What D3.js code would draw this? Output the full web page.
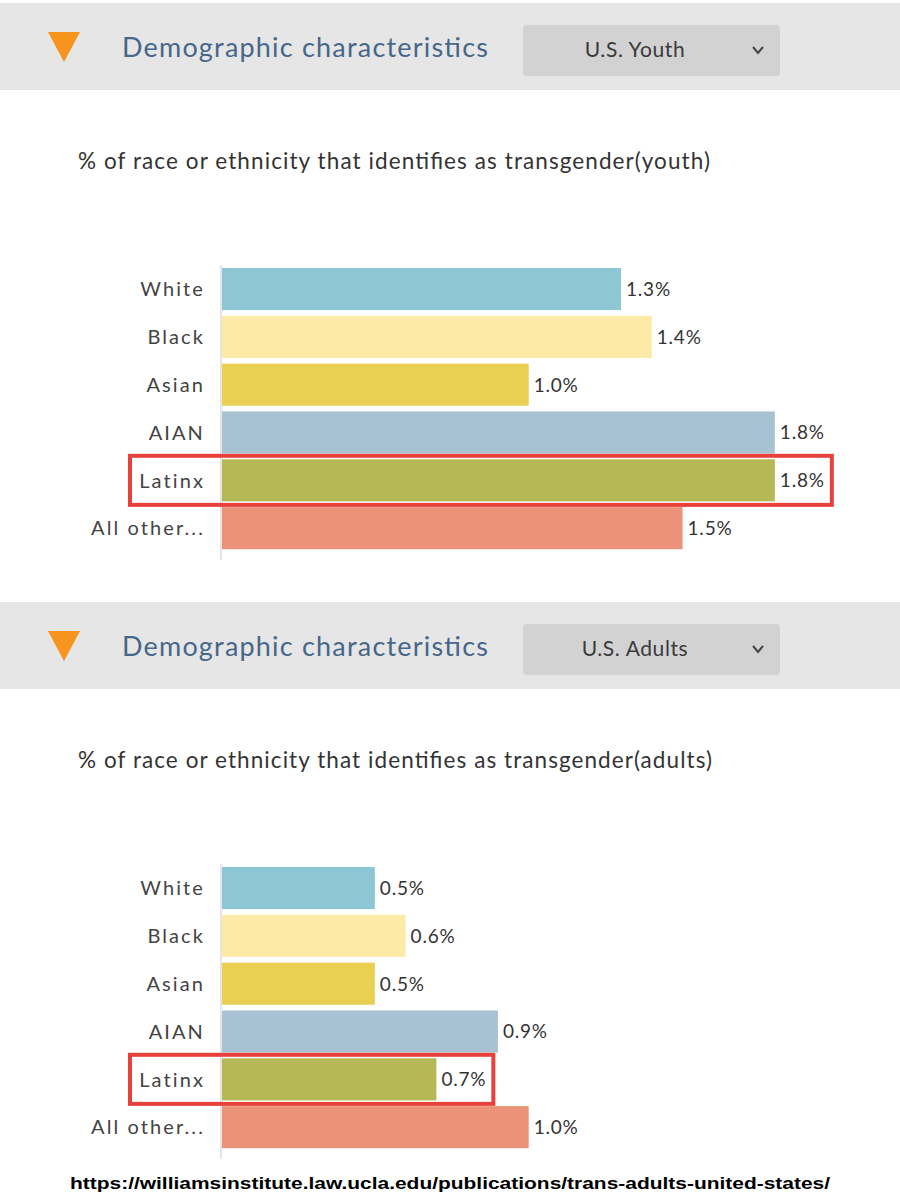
<!DOCTYPE html>
<html>
<head>
<meta charset="utf-8">
<script src="https://cdn.jsdelivr.net/npm/d3@7"></script>
<style>
  html, body { margin: 0; padding: 0; background: #fff; }
  svg { display: block; }
</style>
</head>
<body>
<svg id="chart" width="900" height="1200"></svg>
<script>
const categories = ["White", "Black", "Asian", "AIAN", "Latinx", "All other..."];
const youthValues = [1.3, 1.4, 1.0, 1.8, 1.8, 1.5];
const adultValues = [0.5, 0.6, 0.5, 0.9, 0.7, 1.0];
const barColors = ["#8dc7d5", "#fdeaa7", "#e9cf52", "#a6c2d3", "#b5b855", "#ec9278"];
const highlightCategory = "Latinx";
const panelTitles = ["% of race or ethnicity that identifies as transgender(youth)",
                     "% of race or ethnicity that identifies as transgender(adults)"];
const dropdownLabels = ["U.S. Youth", "U.S. Adults"];
const headerText = "Demographic characteristics";
const sourceText = "https://williamsinstitute.law.ucla.edu/publications/trans-adults-united-states/";

const svg = d3.select("#chart");
const x = d3.scaleLinear().domain([0, 1]).range([221, 528.7]);

function panel(offsetY, values, title, dropdown, titleLen) {
  const g = svg.append("g").attr("transform", `translate(0,${offsetY})`);
  // header band
  g.append("rect").attr("x", 0).attr("y", 3).attr("width", 900).attr("height", 87).attr("fill", "#e6e6e6");
  g.append("path").attr("d", "M48,32 L80,32 L64,62 Z").attr("fill", "#f7941d");
  g.append("text").attr("x", 122).attr("y", 57).text(headerText)
    .attr("font-family", "Lato, sans-serif").attr("font-size", 27).attr("fill", "#46678a")
    .attr("textLength", 366).attr("lengthAdjust", "spacing");
  g.append("rect").attr("x", 523).attr("y", 25).attr("width", 257).attr("height", 51).attr("rx", 4)
    .attr("fill", "#d2d2d2");
  g.append("text").attr("x", 635).attr("y", 57).attr("text-anchor", "middle").text(dropdown)
    .attr("font-family", "Lato, sans-serif").attr("font-size", 21).attr("letter-spacing", 0.6)
    .attr("fill", "#3a3a3a");
  g.append("path").attr("d", "M753,47 L758,53 L763,47").attr("fill", "none")
    .attr("stroke", "#444").attr("stroke-width", 2);
  // title
  g.append("text").attr("x", 78).attr("y", 169).text(title)
    .attr("font-family", "Lato, sans-serif").attr("font-size", 22.5).attr("fill", "#333")
    .attr("textLength", titleLen).attr("lengthAdjust", "spacing");

  const y = d3.scaleBand().domain(categories).range([265.1, 265.1 + 6 * 47.83])
    .paddingInner(0.12).paddingOuter(0.06);

  g.append("line").attr("x1", x(0)).attr("x2", x(0)).attr("y1", 265).attr("y2", 560)
    .attr("stroke", "#dcdcdc").attr("stroke-width", 1.5);

  const data = categories.map((c, i) => ({ c, v: values[i], color: barColors[i] }));

  g.selectAll("rect.bar").data(data).join("rect").attr("class", "bar")
    .attr("x", x(0) + 1).attr("y", d => y(d.c))
    .attr("width", d => x(d.v) - x(0) - 1).attr("height", y.bandwidth())
    .attr("fill", d => d.color);

  g.selectAll("text.cat").data(data).join("text").attr("class", "cat")
    .attr("x", 205).attr("y", d => y(d.c) + y.bandwidth() / 2)
    .attr("dy", "0.36em").attr("text-anchor", "end")
    .attr("font-family", "Lato, sans-serif").attr("font-size", 20)
    .attr("letter-spacing", 2.1).attr("fill", "#444").text(d => d.c);

  const vals = g.selectAll("text.val").data(data).join("text").attr("class", "val")
    .attr("x", d => x(d.v) + 5).attr("y", d => y(d.c) + y.bandwidth() / 2)
    .attr("dy", "0.36em")
    .attr("font-family", "Lato, sans-serif").attr("font-size", 19)
    .attr("letter-spacing", 0.8).attr("fill", "#333")
    .text(d => d.v.toFixed(1) + "%");

  // highlight box
  const hi = data.find(d => d.c === highlightCategory);
  const hiNode = vals.filter(d => d.c === highlightCategory).node();
  const right = x(hi.v) + 5 + hiNode.getComputedTextLength() + 7;
  g.append("rect").attr("x", 130).attr("y", y(hi.c) - 3.5)
    .attr("width", right - 130).attr("height", y.bandwidth() + 7)
    .attr("fill", "none").attr("stroke", "#e8403a").attr("stroke-width", 4);
}

panel(0, youthValues, panelTitles[0], dropdownLabels[0], 632);
panel(599, adultValues, panelTitles[1], dropdownLabels[1], 634);

svg.append("text").attr("x", 70).attr("y", 1189).text(sourceText)
  .attr("font-family", "Liberation Sans, Arial, sans-serif").attr("font-weight", "bold")
  .attr("font-size", 17).attr("fill", "#000")
  .attr("textLength", 760).attr("lengthAdjust", "spacingAndGlyphs");
</script>
</body>
</html>
